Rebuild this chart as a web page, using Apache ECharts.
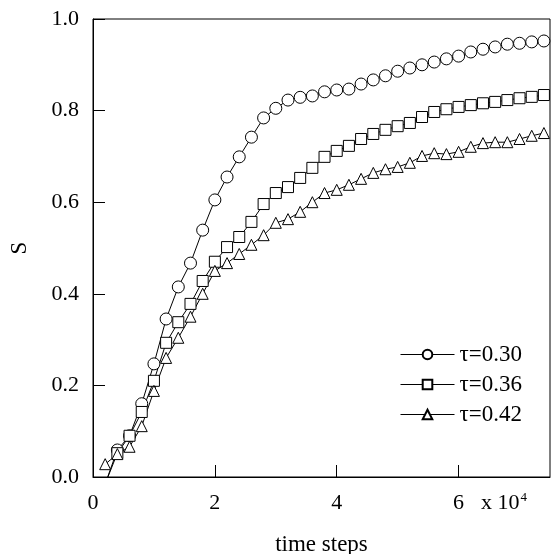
<!DOCTYPE html>
<html>
<head>
<meta charset="utf-8">
<script src="https://cdn.jsdelivr.net/npm/echarts@6/dist/echarts.min.js"></script>
<style>
html, body { margin: 0; padding: 0; background: #fff; }
#chart { width: 551px; height: 554px; }
</style>
</head>
<body>
<div id="chart"></div>
<script>
// time steps in units of 10^4
var steps = [0.2, 0.4, 0.6, 0.8, 1.0, 1.2, 1.4, 1.6, 1.8, 2.0,
             2.2, 2.4, 2.6, 2.8, 3.0, 3.2, 3.4, 3.6, 3.8, 4.0,
             4.2, 4.4, 4.6, 4.8, 5.0, 5.2, 5.4, 5.6, 5.8, 6.0,
             6.2, 6.4, 6.6, 6.8, 7.0, 7.2, 7.4];
var names = ['τ=0.30', 'τ=0.36', 'τ=0.42'];
var s030 = [-0.015, 0.059, 0.09, 0.16, 0.247, 0.345, 0.415, 0.467, 0.539, 0.605,
            0.655, 0.699, 0.742, 0.784, 0.805, 0.823, 0.829, 0.832, 0.841, 0.845,
            0.847, 0.858, 0.867, 0.876, 0.886, 0.893, 0.9, 0.906, 0.913, 0.919,
            0.928, 0.934, 0.939, 0.945, 0.947, 0.95, 0.952];
var s036 = [-0.015, 0.052, 0.09, 0.142, 0.21, 0.293, 0.338, 0.378, 0.428, 0.47,
            0.502, 0.524, 0.557, 0.596, 0.62, 0.633, 0.653, 0.675, 0.699, 0.712,
            0.723, 0.738, 0.749, 0.758, 0.766, 0.773, 0.786, 0.797, 0.803, 0.808,
            0.812, 0.816, 0.819, 0.823, 0.827, 0.83, 0.834];
var s042 = [0.028, 0.05, 0.066, 0.111, 0.188, 0.26, 0.304, 0.35, 0.4, 0.45,
            0.467, 0.487, 0.507, 0.528, 0.555, 0.563, 0.579, 0.6, 0.62, 0.627,
            0.638, 0.651, 0.664, 0.672, 0.677, 0.686, 0.701, 0.707, 0.705, 0.71,
            0.721, 0.729, 0.731, 0.731, 0.738, 0.745, 0.751];
var symbols = ['circle', 'rect', 'triangle'];
var values = [s030, s036, s042];

var font = 'Liberation Serif';

function pairs(vals) {
    return steps.map(function (t, i) { return [t, vals[i]]; });
}

var chart = echarts.init(document.getElementById('chart'));

var series = names.map(function (n, k) {
    return {
        name: n,
        type: 'line',
        data: pairs(values[k]),
        symbol: symbols[k],
        symbolSize: k === 0 ? 12 : 11,
        showAllSymbol: true,
        clip: true,
        lineStyle: { color: '#000', width: 1 },
        itemStyle: { color: '#fff', borderColor: '#000', borderWidth: 1 }
    };
});

var option = {
    animation: false,
    backgroundColor: '#fff',
    grid: {
        left: 93, right: 1, top: 19, bottom: 77,
        outerBoundsMode: 'none',
        containLabel: false,
        show: true, borderColor: '#000', borderWidth: 1
    },
    legend: {
        orient: 'vertical',
        left: 395,
        top: 338,
        itemWidth: 54,
        itemHeight: 12,
        itemGap: 7,
        data: names,
        lineStyle: { width: 1 },
        textStyle: { fontFamily: font, fontSize: 23, color: '#000', lineHeight: 23 }
    },
    xAxis: {
        type: 'value',
        min: 0, max: 7.5, interval: 2,
        name: 'time steps',
        nameLocation: 'middle',
        nameGap: 56,
        nameTextStyle: { fontFamily: font, fontSize: 23, color: '#000' },
        axisLine: { lineStyle: { color: '#000', width: 1 } },
        axisTick: { inside: true, length: 12, lineStyle: { color: '#000' } },
        axisLabel: {
            fontFamily: font, fontSize: 22, color: '#000', margin: 15,
            showMaxLabel: false,
            formatter: function (v) { return v % 2 === 0 ? String(v) : ''; }
        },
        splitLine: { show: false }
    },
    yAxis: {
        type: 'value',
        min: 0, max: 1, interval: 0.2,
        name: 'S',
        nameLocation: 'middle',
        nameGap: 62,
        nameTextStyle: { fontFamily: font, fontSize: 23, color: '#000' },
        axisLine: { lineStyle: { color: '#000', width: 1 } },
        axisTick: { inside: true, length: 12, lineStyle: { color: '#000' } },
        axisLabel: {
            fontFamily: font, fontSize: 22, color: '#000', margin: 14,
            formatter: function (v) { return v.toFixed(1); }
        },
        splitLine: { show: false }
    },
    graphic: [{
        type: 'text',
        left: 481,
        top: 491,
        style: {
            text: '{a|x 10}{b|4}',
            rich: {
                a: { fontFamily: font, fontSize: 22, fill: '#000', verticalAlign: 'bottom' },
                b: { fontFamily: font, fontSize: 13, fill: '#000', verticalAlign: 'top', padding: [0, 0, 10, 1] }
            }
        }
    }],
    series: series
};
chart.setOption(option);
</script>
</body>
</html>
